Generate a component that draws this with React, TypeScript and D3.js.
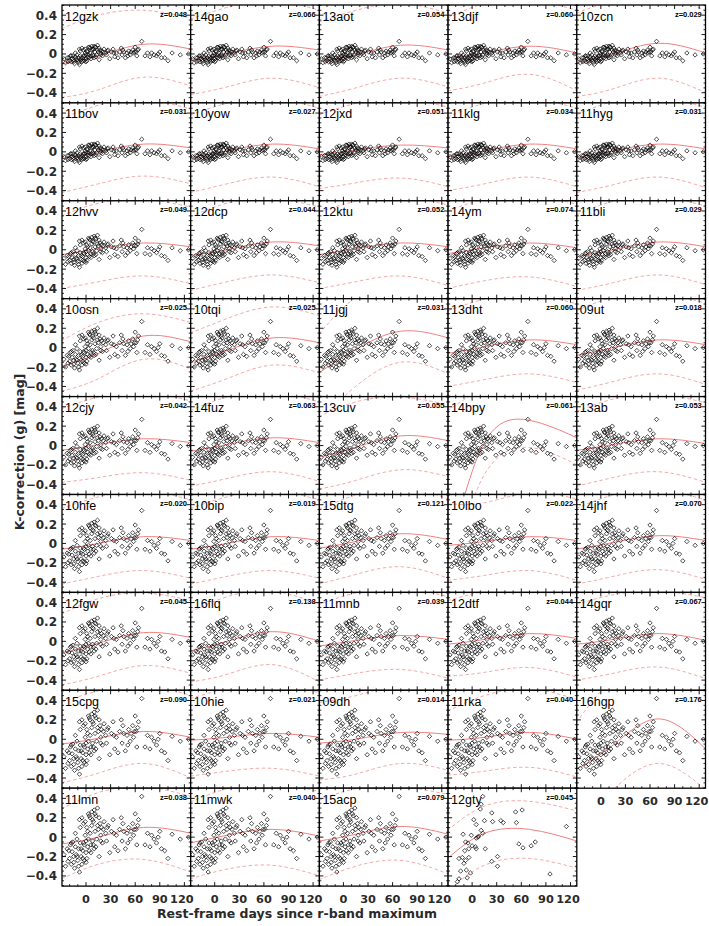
import React from "react";
import * as d3 from "d3";

// ---------------- data ----------------
const names = [
  "12gzk", "14gao", "13aot", "13djf", "10zcn",
  "11bov", "10yow", "12jxd", "11klg", "11hyg",
  "12hvv", "12dcp", "12ktu", "14ym", "11bli",
  "10osn", "10tqi", "11jgj", "13dht", "09ut",
  "12cjy", "14fuz", "13cuv", "14bpy", "13ab",
  "10hfe", "10bip", "15dtg", "10lbo", "14jhf",
  "12fgw", "16flq", "11mnb", "12dtf", "14gqr",
  "15cpg", "10hie", "09dh", "11rka", "16hgp",
  "11lmn", "11mwk", "15acp", "12gty",
];

const redshifts = [
  0.048, 0.066, 0.054, 0.06, 0.029,
  0.031, 0.027, 0.051, 0.034, 0.031,
  0.049, 0.044, 0.052, 0.074, 0.029,
  0.025, 0.025, 0.031, 0.06, 0.018,
  0.042, 0.063, 0.055, 0.061, 0.053,
  0.02, 0.019, 0.121, 0.022, 0.07,
  0.045, 0.138, 0.039, 0.044, 0.067,
  0.09, 0.021, 0.014, 0.04, 0.176,
  0.038, 0.04, 0.079, 0.045,
];

const pointGroups = [
  "A", "A", "A", "A", "A",
  "A", "A", "A", "A", "A",
  "B", "B", "B", "B", "B",
  "C", "C", "C", "C", "C",
  "C", "C", "C", "C", "C",
  "D", "D", "D", "D", "D",
  "D", "D", "D", "D", "D",
  "E", "E", "E", "E", "E",
  "E", "E", "E", "F",
];

const epochs = [
  -27, -25, -23, -22, -20, -19, -18, -17, -16, -15,
  -14, -13, -12, -11, -10, -9, -8, -8, -7, -6,
  -5, -5, -4, -3, -2, -2, -1, 0, 0, 1,
  1, 2, 3, 3, 4, 5, 5, 6, 7, 7,
  8, 9, 10, 10, 11, 12, 13, 14, 15, 16,
  17, 18, 19, 20,
  22, 24, 25, 27, 29, 31, 33, 35, 37, 39,
  41, 43, 44, 46, 48, 50, 52, 54, 55, 57,
  58, 60, 61, 62, 63,
  68, 72, 75, 78, 80, 86, 88, 90, 92, 96, 100, 105, 115, 125,
  -21, -18, -15, -13, -11, -9, -7, -6, -4, -3,
  -1, 0, 2, 4, 6, 8, 9, 11, 12, 14,
  16, 18, 21, 26, 34, 45, 51, 59, 64, 83,
];

const groupA = [
  -0.05, -0.09, -0.04, -0.08, -0.07, -0.02, -0.08, -0.05, -0.02, -0.06,
  -0.1, -0.03, -0.05, -0.01, -0.07, -0.04, 0.05, -0.11, -0.02, -0.06,
  0.06, -0.08, -0.04, 0.04, -0.02, -0.07, 0.01, -0.05, -0.01, 0.03,
  -0.07, -0.03, 0.07, -0.01, -0.04, 0.06, 0.01, -0.02, 0.08, 0.04,
  -0.01, 0.05, 0.08, -0.04, 0.02, 0.07, -0.01, 0.09, 0.02, -0.06,
  0.04, 0.01, 0.03, -0.02,
  0.05, 0.01, -0.01, 0.04, -0.05, 0.02, 0.05, -0.03, 0.01, -0.04,
  0.02, 0.06, -0.01, 0.02, -0.04, 0.01, 0.03, -0.01, 0.02, 0.04,
  0.01, 0.07, 0.02, -0.02, 0.04,
  0.13, -0.02, 0.01, -0.03, 0.01, -0.02, 0.0, 0.02, -0.04, -0.04, -0.07, 0.01, -0.01, 0.0,
  -0.04, -0.02, -0.08, 0.01, -0.06, -0.09, 0.03, -0.04, -0.07, -0.02,
  0.05, -0.08, 0.02, 0.07, -0.05, 0.05, -0.02, 0.07, -0.03, 0.04,
  0.06, -0.01, 0.02, 0.03, 0.01, 0.04, -0.02, 0.02, 0.05, -0.01,
];

const groupB = [
  -0.09, -0.15, -0.06, -0.12, -0.11, -0.04, -0.14, -0.08, -0.02, -0.1,
  -0.16, -0.05, -0.09, -0.01, -0.12, -0.06, 0.09, -0.18, -0.03, -0.1,
  0.1, -0.14, -0.07, 0.07, -0.04, -0.12, 0.01, -0.08, -0.02, 0.05,
  -0.11, -0.05, 0.12, -0.01, -0.07, 0.1, 0.02, -0.04, 0.13, 0.06,
  -0.02, 0.08, 0.14, -0.06, 0.03, 0.11, -0.01, 0.15, 0.04, -0.1,
  0.07, 0.01, 0.05, -0.03,
  0.08, 0.02, -0.02, 0.06, -0.08, 0.03, 0.09, -0.05, 0.01, -0.07,
  0.04, 0.1, -0.02, 0.03, -0.06, 0.02, 0.05, -0.01, 0.03, 0.07,
  0.01, 0.12, 0.04, -0.04, 0.06,
  0.21, -0.04, 0.02, -0.05, 0.01, -0.03, 0.0, 0.03, -0.06, -0.07, -0.11, 0.02, -0.01, 0.0,
  -0.07, -0.03, -0.13, 0.02, -0.1, -0.15, 0.05, -0.06, -0.11, -0.03,
  0.08, -0.13, 0.03, 0.11, -0.08, 0.09, -0.04, 0.12, -0.05, 0.06,
  0.1, -0.02, 0.04, 0.05, 0.02, 0.07, -0.03, 0.04, 0.09, -0.01,
];

const groupC = [
  -0.12, -0.2, -0.08, -0.16, -0.14, -0.05, -0.18, -0.1, -0.03, -0.13,
  -0.21, -0.07, -0.12, -0.01, -0.16, -0.08, 0.12, -0.23, -0.04, -0.13,
  0.13, -0.18, -0.09, 0.09, -0.05, -0.16, 0.01, -0.1, -0.03, 0.07,
  -0.14, -0.07, 0.16, -0.01, -0.09, 0.13, 0.03, -0.05, 0.17, 0.08,
  -0.03, 0.1, 0.18, -0.08, 0.04, 0.14, -0.01, 0.2, 0.05, -0.13,
  0.09, 0.01, 0.07, -0.04,
  0.1, 0.03, -0.03, 0.08, -0.1, 0.04, 0.12, -0.07, 0.01, -0.09,
  0.05, 0.13, -0.03, 0.04, -0.08, 0.03, 0.07, -0.01, 0.04, 0.09,
  0.01, 0.16, 0.05, -0.05, 0.08,
  0.27, -0.05, 0.03, -0.07, 0.01, -0.04, 0.0, 0.04, -0.08, -0.09, -0.14, 0.02, -0.01, 0.0,
  -0.09, -0.04, -0.17, 0.03, -0.13, -0.2, 0.07, -0.08, -0.14, -0.04,
  0.1, -0.17, 0.04, 0.14, -0.1, 0.12, -0.05, 0.16, -0.07, 0.08,
  0.13, -0.03, 0.05, 0.07, 0.03, 0.09, -0.04, 0.05, 0.12, -0.01,
];

const groupD = [
  -0.14, -0.24, -0.1, -0.2, -0.18, -0.06, -0.22, -0.12, -0.04, -0.16,
  -0.26, -0.08, -0.14, -0.02, -0.19, -0.1, 0.14, -0.29, -0.05, -0.16,
  0.16, -0.22, -0.11, 0.11, -0.06, -0.19, 0.02, -0.13, -0.03, 0.08,
  -0.18, -0.08, 0.19, -0.02, -0.11, 0.16, 0.03, -0.06, 0.21, 0.1,
  -0.03, 0.13, 0.22, -0.1, 0.05, 0.18, -0.02, 0.24, 0.06, -0.16,
  0.11, 0.02, 0.08, -0.05,
  0.13, 0.03, -0.03, 0.1, -0.13, 0.05, 0.14, -0.08, 0.02, -0.11,
  0.06, 0.16, -0.03, 0.05, -0.1, 0.03, 0.08, -0.02, 0.05, 0.11,
  0.02, 0.19, 0.06, -0.06, 0.1,
  0.34, -0.06, 0.03, -0.08, 0.02, -0.05, 0.0, 0.05, -0.1, -0.11, -0.18, 0.02, -0.02, 0.0,
  -0.11, -0.05, -0.21, 0.03, -0.16, -0.24, 0.08, -0.1, -0.18, -0.05,
  0.13, -0.21, 0.05, 0.18, -0.13, 0.14, -0.06, 0.19, -0.08, 0.1,
  0.16, -0.03, 0.06, 0.08, 0.03, 0.11, -0.05, 0.06, 0.14, -0.02,
];

const groupE = [
  -0.18, -0.3, -0.12, -0.25, -0.22, -0.08, -0.28, -0.15, -0.05, -0.2,
  -0.32, -0.1, -0.18, -0.02, -0.24, -0.12, 0.18, -0.36, -0.06, -0.2,
  0.2, -0.28, -0.14, 0.14, -0.08, -0.24, 0.02, -0.16, -0.04, 0.1,
  -0.22, -0.1, 0.24, -0.02, -0.14, 0.2, 0.04, -0.08, 0.26, 0.12,
  -0.04, 0.16, 0.28, -0.12, 0.06, 0.22, -0.02, 0.3, 0.08, -0.2,
  0.14, 0.02, 0.1, -0.06,
  0.16, 0.04, -0.04, 0.12, -0.16, 0.06, 0.18, -0.1, 0.02, -0.14,
  0.08, 0.2, -0.04, 0.06, -0.12, 0.04, 0.1, -0.02, 0.06, 0.14,
  0.02, 0.24, 0.08, -0.08, 0.12,
  0.42, -0.08, 0.04, -0.1, 0.02, -0.06, 0.0, 0.06, -0.12, -0.14, -0.22, 0.03, -0.02, 0.0,
  -0.14, -0.06, -0.26, 0.04, -0.2, -0.3, 0.1, -0.12, -0.22, -0.06,
  0.16, -0.26, 0.06, 0.22, -0.16, 0.18, -0.08, 0.24, -0.1, 0.12,
  0.2, -0.04, 0.08, 0.1, 0.04, 0.14, -0.06, 0.08, 0.18, -0.02,
];

const gtyDays = [
  13, 11, 10, 24, 53, 61, 2, 5, 15, -11,
  -1, 11, 13, 5, 7, 8, -8, -5, -9, -4,
  4, 5, -16, -12, -8, -4, -10, -14, -7, -2,
  -6, -16, -18, 16, 24, 31, 31, 35, 38, 54,
  57, 62, 72, 77, 95, 115, 25, 0,
];
const gtyVals = [
  0.42, 0.34, 0.29, 0.25, 0.26, 0.28, 0.18, 0.13, 0.17, 0.03,
  0.02, 0.07, 0.04, -0.01, 0.0, 0.01, -0.05, -0.06, -0.14, -0.12,
  -0.1, -0.12, -0.22, -0.21, -0.24, -0.21, -0.27, -0.35, -0.34, -0.37,
  -0.42, -0.43, -0.46, -0.12, -0.25, -0.2, -0.3, 0.17, 0.15, 0.15,
  -0.07, -0.11, -0.09, -0.05, -0.38, 0.11, 0.16, -0.09,
];

// curve knots (days) and per-panel values at those knots
const knotDays = [-30, 15, 70, 128];

const meanCurves = [
  [-0.1, -0.02, 0.1, 0.05], [-0.07, 0.0, 0.08, 0.04], [-0.08, -0.01, 0.09, 0.04], [-0.04, 0.01, 0.08, 0.01], [-0.09, 0.0, 0.11, 0.01],
  [-0.07, 0.0, 0.08, 0.04], [-0.06, 0.01, 0.08, 0.03], [-0.03, 0.02, 0.07, 0.04], [-0.05, 0.01, 0.08, 0.03], [-0.06, 0.01, 0.08, 0.03],
  [-0.05, 0.01, 0.07, 0.03], [-0.06, 0.0, 0.08, 0.04], [-0.05, 0.01, 0.07, 0.03], [-0.04, 0.02, 0.07, 0.02], [-0.07, 0.0, 0.08, 0.03],
  [-0.19, -0.06, 0.12, 0.06], [-0.15, -0.03, 0.1, 0.05], [-0.26, -0.02, 0.17, 0.1], [-0.06, 0.01, 0.08, 0.03], [-0.08, 0.0, 0.08, 0.03],
  [-0.05, 0.01, 0.07, 0.03], [-0.06, 0.01, 0.08, 0.03], [-0.12, -0.02, 0.1, 0.05], [-1.2, 0.03, 0.26, 0.08], [-0.05, 0.01, 0.07, 0.02],
  [-0.06, 0.0, 0.07, 0.03], [-0.06, 0.0, 0.07, 0.03], [-0.05, 0.02, 0.1, 0.04], [-0.02, 0.02, 0.07, 0.03], [-0.06, 0.01, 0.08, 0.03],
  [-0.12, -0.02, 0.09, 0.04], [-0.1, 0.0, 0.1, 0.0], [-0.05, 0.01, 0.06, 0.02], [-0.03, 0.02, 0.08, 0.03], [-0.03, 0.02, 0.08, 0.01],
  [-0.05, 0.01, 0.08, 0.02], [-0.01, 0.02, 0.06, 0.02], [-0.04, 0.0, 0.07, 0.05], [-0.01, 0.02, 0.07, 0.0], [-0.31, -0.06, 0.21, -0.1],
  [-0.07, 0.0, 0.1, 0.04], [-0.06, 0.02, 0.08, 0.01], [-0.04, 0.03, 0.11, 0.03], [-0.22, 0.04, 0.08, -0.04],
];

const upperCurves = [
  [0.26, 0.4, 0.45, 0.37], [0.36, 0.48, 0.55, 0.45], [0.33, 0.45, 0.52, 0.42], [0.37, 0.52, 0.56, 0.45], [0.42, 0.55, 0.6, 0.45],
  [0.34, 0.48, 0.54, 0.44], [0.38, 0.5, 0.55, 0.45], [0.38, 0.5, 0.55, 0.46], [0.36, 0.5, 0.55, 0.45], [0.38, 0.52, 0.56, 0.46],
  [0.35, 0.48, 0.52, 0.44], [0.34, 0.48, 0.53, 0.44], [0.39, 0.5, 0.55, 0.46], [0.4, 0.52, 0.56, 0.47], [0.36, 0.5, 0.55, 0.45],
  [0.07, 0.26, 0.35, 0.26], [0.15, 0.3, 0.42, 0.33], [0.14, 0.52, 0.7, 0.55], [0.38, 0.5, 0.55, 0.45], [0.38, 0.52, 0.56, 0.46],
  [0.38, 0.5, 0.55, 0.46], [0.36, 0.5, 0.55, 0.45], [0.3, 0.45, 0.5, 0.42], [0.36, 0.6, 0.75, 0.6], [0.35, 0.48, 0.53, 0.44],
  [0.36, 0.48, 0.54, 0.45], [0.36, 0.48, 0.54, 0.45], [0.35, 0.5, 0.58, 0.46], [0.41, 0.42, 0.52, 0.46], [0.36, 0.5, 0.55, 0.45],
  [0.28, 0.44, 0.5, 0.42], [0.3, 0.46, 0.52, 0.38], [0.38, 0.5, 0.55, 0.46], [0.42, 0.52, 0.58, 0.48], [0.38, 0.48, 0.52, 0.45],
  [0.38, 0.5, 0.56, 0.45], [0.42, 0.52, 0.56, 0.48], [0.38, 0.45, 0.55, 0.48], [0.29, 0.45, 0.52, 0.41], [0.17, 0.62, 0.8, 0.6],
  [0.29, 0.46, 0.52, 0.42], [0.36, 0.5, 0.55, 0.47], [0.38, 0.5, 0.52, 0.44], [0.07, 0.32, 0.37, 0.27],
];

const lowerCurves = [
  [-0.45, -0.37, -0.24, -0.33], [-0.42, -0.34, -0.25, -0.35], [-0.44, -0.35, -0.25, -0.34], [-0.38, -0.3, -0.21, -0.38], [-0.44, -0.36, -0.25, -0.4],
  [-0.42, -0.33, -0.25, -0.33], [-0.42, -0.33, -0.26, -0.36], [-0.38, -0.32, -0.27, -0.36], [-0.4, -0.33, -0.26, -0.36], [-0.42, -0.34, -0.26, -0.37],
  [-0.4, -0.33, -0.27, -0.35], [-0.42, -0.33, -0.26, -0.34], [-0.4, -0.33, -0.27, -0.37], [-0.4, -0.32, -0.28, -0.38], [-0.42, -0.34, -0.26, -0.36],
  [-0.45, -0.32, -0.12, -0.22], [-0.45, -0.32, -0.18, -0.26], [-0.75, -0.4, -0.15, -0.27], [-0.4, -0.33, -0.27, -0.36], [-0.44, -0.35, -0.27, -0.38],
  [-0.38, -0.33, -0.28, -0.36], [-0.42, -0.34, -0.27, -0.37], [-0.45, -0.36, -0.25, -0.32], [-1.4, -0.3, -0.02, -0.2], [-0.42, -0.33, -0.27, -0.38],
  [-0.42, -0.34, -0.28, -0.36], [-0.42, -0.34, -0.28, -0.36], [-0.42, -0.32, -0.24, -0.36], [-0.38, -0.33, -0.28, -0.38], [-0.42, -0.34, -0.27, -0.37],
  [-0.45, -0.36, -0.25, -0.33], [-0.42, -0.34, -0.24, -0.42], [-0.4, -0.33, -0.29, -0.38], [-0.36, -0.32, -0.27, -0.37], [-0.4, -0.33, -0.265, -0.385],
  [-0.45, -0.35, -0.25, -0.4], [-0.38, -0.33, -0.3, -0.38], [-0.42, -0.36, -0.25, -0.32], [-0.37, -0.33, -0.29, -0.39], [-0.9, -0.52, -0.25, -0.52],
  [-0.43, -0.28, -0.23, -0.36], [-0.43, -0.33, -0.29, -0.4], [-0.44, -0.3, -0.24, -0.38], [-0.56, -0.29, -0.22, -0.32],
];

const xMajorTicks = [0, 30, 60, 90, 120];
const xTickLabels = ["0", "30", "60", "90", "120"];
const yMajorTicks = [-0.4, -0.2, 0, 0.2, 0.4];
const yTickLabels = ["\u22120.4", "\u22120.2", "0", "0.2", "0.4"];

// ---------------- layout ----------------
const W = 709;
const H = 926;
const LEFT = 62;
const TOP = 5;
const PW = 128.7;
const PH = 97.9;
const NCOL = 5;
const XDOM: [number, number] = [-29.3, 127.7];
const YDOM: [number, number] = [-0.505, 0.505];

const valueSets: Record<string, number[]> = {
  A: groupA,
  B: groupB,
  C: groupC,
  D: groupD,
  E: groupE,
};

const TICKFONT = "'DejaVu Sans', sans-serif";
const LABELFONT = "'Liberation Sans', Arial, sans-serif";
const diamond = (r: number) => `M0,${-r}L${r},0L0,${r}L${-r},0Z`;

function Panel({ i }: { i: number }) {
  const row = Math.floor(i / NCOL);
  const col = i % NCOL;
  const x0 = LEFT + col * PW;
  const y0 = TOP + row * PH;
  const x = d3.scaleLinear().domain(XDOM).range([x0, x0 + PW]);
  const y = d3.scaleLinear().domain(YDOM).range([y0 + PH, y0]);

  const g = pointGroups[i];
  const pts: [number, number][] =
    g === "F"
      ? gtyDays.map((d, k) => [d, gtyVals[k]])
      : epochs.map((d, k) => [d, valueSets[g][k]]);

  const line = d3
    .line<number>()
    .x((_, k) => x(knotDays[k]))
    .y((v) => y(v))
    .curve(d3.curveNatural);

  const xMinor = d3.range(-20, 128, 10).filter((d) => d % 30 !== 0);
  const yMinor = d3.range(-0.5, 0.501, 0.05).filter(
    (v) => Math.abs(Math.round(v * 100) % 20) !== 0
  );

  const isBottom = i >= 40 || i === 39;
  const clipId = `clip-${i}`;
  const fmt = d3.format(".3f");

  return (
    <g>
      <rect x={x0} y={y0} width={PW} height={PH} fill="#fff" />
      <clipPath id={clipId}>
        <rect x={x0} y={y0} width={PW} height={PH} />
      </clipPath>
      <g clipPath={`url(#${clipId})`}>
        <path d={line(upperCurves[i]) || ""} fill="none" stroke="#f4a0a0" strokeWidth={0.9} strokeDasharray="3.5,2.5" />
        <path d={line(lowerCurves[i]) || ""} fill="none" stroke="#f4a0a0" strokeWidth={0.9} strokeDasharray="3.5,2.5" />
        <path d={line(meanCurves[i]) || ""} fill="none" stroke="#f08080" strokeWidth={1} />
        {pts.map(([d, v], k) => (
          <path
            key={k}
            d={diamond(2.2)}
            transform={`translate(${x(d)},${y(v)})`}
            fill="none"
            stroke="#000"
            strokeWidth={0.7}
          />
        ))}
      </g>
      {xMajorTicks.map((t) => (
        <g key={`xt${t}`}>
          <line x1={x(t)} x2={x(t)} y1={y0 + PH} y2={y0 + PH - 4} stroke="#000" strokeWidth={0.9} />
          <line x1={x(t)} x2={x(t)} y1={y0} y2={y0 + 4} stroke="#000" strokeWidth={0.9} />
        </g>
      ))}
      {xMinor.map((t) => (
        <g key={`xm${t}`}>
          <line x1={x(t)} x2={x(t)} y1={y0 + PH} y2={y0 + PH - 2} stroke="#000" strokeWidth={0.8} />
          <line x1={x(t)} x2={x(t)} y1={y0} y2={y0 + 2} stroke="#000" strokeWidth={0.8} />
        </g>
      ))}
      {yMajorTicks.map((t) => (
        <g key={`yt${t}`}>
          <line x1={x0} x2={x0 + 4} y1={y(t)} y2={y(t)} stroke="#000" strokeWidth={0.9} />
          <line x1={x0 + PW} x2={x0 + PW - 4} y1={y(t)} y2={y(t)} stroke="#000" strokeWidth={0.9} />
        </g>
      ))}
      {yMinor.map((t, k) => (
        <g key={`ym${k}`}>
          <line x1={x0} x2={x0 + 2} y1={y(t)} y2={y(t)} stroke="#000" strokeWidth={0.8} />
          <line x1={x0 + PW} x2={x0 + PW - 2} y1={y(t)} y2={y(t)} stroke="#000" strokeWidth={0.8} />
        </g>
      ))}
      <rect x={x0} y={y0} width={PW} height={PH} fill="none" stroke="#000" strokeWidth={1.3} />
      <text x={x0 + 3} y={y0 + 15.5} fontFamily={LABELFONT} fontSize={12.5} fill="#000">
        {names[i]}
      </text>
      <text
        x={x0 + 125}
        y={y0 + 11.5}
        textAnchor="end"
        fontFamily={LABELFONT}
        fontWeight="bold"
        fontSize={7.5}
        fill="#000"
      >
        {`z=${fmt(redshifts[i])}`}
      </text>
      {isBottom &&
        xMajorTicks.map((t, k) => (
          <text
            key={`bl${k}`}
            x={x(t) - (t === 120 ? 2.5 : 0)}
            y={y0 + PH + 16.5}
            textAnchor="middle"
            fontFamily={TICKFONT}
            fontWeight="bold"
            fontSize={11.3}
            fill="#2a2a2a"
          >
            {xTickLabels[k]}
          </text>
        ))}
      {col === 0 &&
        yMajorTicks.map((t, k) => (
          <text
            key={`yl${k}`}
            x={57}
            y={y(t) + 4.5}
            textAnchor="end"
            fontFamily={TICKFONT}
            fontWeight="bold"
            fontSize={12}
            fill="#2a2a2a"
          >
            {yTickLabels[k]}
          </text>
        ))}
    </g>
  );
}

export default function App() {
  return (
    <svg
      width={W}
      height={H}
      viewBox={`0 0 ${W} ${H}`}
      style={{ position: "absolute", left: 0, top: 0, background: "#fff" }}
    >
      <rect x={0} y={0} width={W} height={H} fill="#fff" />
      {names.map((_, i) => (
        <Panel key={i} i={i} />
      ))}
      <text
        transform={`translate(24, 452) rotate(-90)`}
        textAnchor="middle"
        fontFamily={TICKFONT}
        fontWeight="bold"
        fontSize={12.5}
        fill="#2a2a2a"
      >
        K-correction (g) [mag]
      </text>
      <text
        x={297}
        y={918}
        textAnchor="middle"
        fontFamily={TICKFONT}
        fontWeight="bold"
        fontSize={12.5}
        fill="#2a2a2a"
      >
        Rest-frame days since r-band maximum
      </text>
    </svg>
  );
}
